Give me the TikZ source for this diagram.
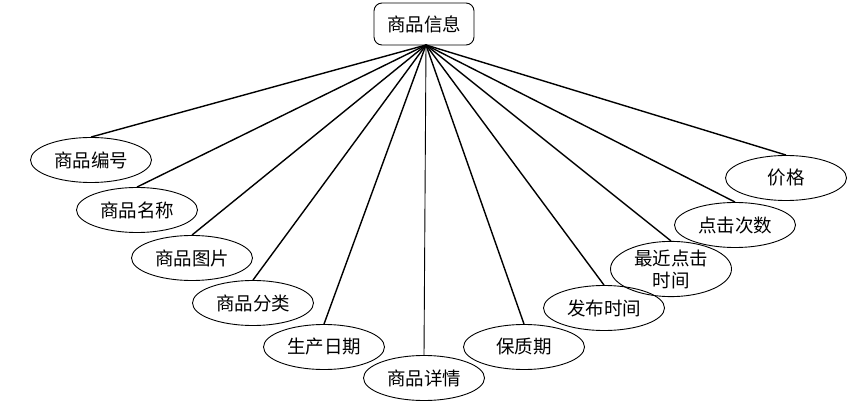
\documentclass[tikz,border=0pt]{standalone}
\usepackage{fontspec}
\setmainfont{Noto Sans CJK SC}
\usetikzlibrary{shapes.geometric}
\begin{document}
\begin{tikzpicture}[x=1pt,y=-1pt,
  attr/.style={draw, ellipse, line width=0.9pt, minimum width=121pt, minimum height=45pt, inner sep=0pt, font=\fontsize{18.5}{22}\selectfont, align=center},
  entity/.style={draw, rounded corners=8pt, line width=0.9pt, minimum width=100pt, minimum height=42pt, inner sep=0pt, font=\fontsize{18.5}{22}\selectfont},
  link/.style={line width=1.4pt}]
\useasboundingbox (0,0) rectangle (866,411);
\node[entity] (root) at (424,24) {商品信息};
\coordinate (hub) at (426,45);
\node[attr] (a1) at (91,160) {商品编号};
\node[attr] (a2) at (137,210) {商品名称};
\node[attr] (a3) at (192,258) {商品图片};
\node[attr] (a4) at (253,303) {商品分类};
\node[attr] (a5) at (324,347) {生产日期};
\node[attr] (a6) at (424,378) {商品详情};
\node[attr] (a7) at (524,347) {保质期};
\node[attr] (a8) at (604,308) {发布时间};
\node[attr] (a9) at (671,269) {最近点击\\时间};
\node[attr] (a10) at (735,225) {点击次数};
\node[attr] (a11) at (786,178) {价格};
\foreach \n in {a1,a2,a3,a4,a5,a7,a8,a9,a10,a11}
  \draw[link] (hub) -- (\n.north);
\draw[line width=0.9pt] (hub) -- (a6.north);
\end{tikzpicture}
\end{document}
